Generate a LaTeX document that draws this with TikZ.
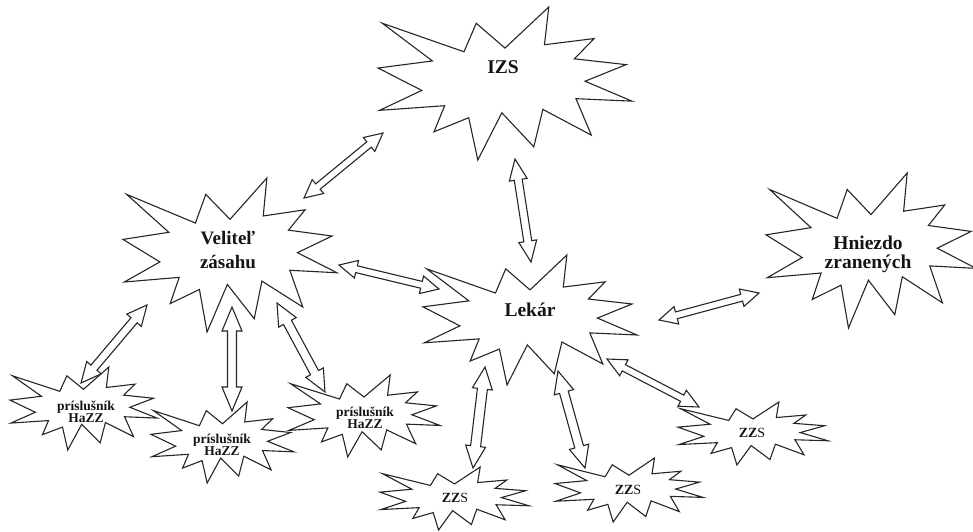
\documentclass[tikz,border=0pt]{standalone}
\usepackage{fontspec}
\setmainfont{Liberation Serif}
\usetikzlibrary{calc}
\tikzset{
  sealst/.style={draw=black!85, line width=1.1pt, line join=miter},
  arrst/.style={draw=black!85, line width=1.1pt, line join=miter},
  lbl/.style={font=\bfseries, text=black!92, align=center, inner sep=0pt},
}
\newcommand\seal[4]{%
  \begin{scope}[shift={(#1,#2)},x=#3pt,y=-#4pt]
    \draw[sealst] (0.5,0.2685) -- (0.6723,0) -- (0.6553,0.2465) -- (0.8509,0.2063) -- (0.7732,0.3387) -- (0.9767,0.3767) -- (0.8151,0.4850) -- (1,0.6153) -- (0.7795,0.5992) -- (0.8400,0.8377) -- (0.6491,0.6693) -- (0.6133,0.9137) -- (0.4876,0.6914) -- (0.3928,1) -- (0.3572,0.7235) -- (0.2205,0.8156) -- (0.2624,0.6452) -- (0.00625,0.6753) -- (0.1723,0.5451) -- (0,0.3988) -- (0.2142,0.3526) -- (0.0171,0.1063) -- (0.3385,0.2926) -- (0.3867,0.1063) -- cycle;
  \end{scope}}
\newcommand\dbl[5]{%
  \path (#1); \pgfgetlastxy{\arrAx}{\arrAy}
  \path (#2); \pgfgetlastxy{\arrBx}{\arrBy}
  \pgfmathsetmacro\arrlen{veclen(\arrBx-\arrAx,\arrBy-\arrAy)}
  \pgfmathsetmacro\arrang{atan2(\arrBy-\arrAy,\arrBx-\arrAx)}
  \draw[arrst,shift={(#1)},rotate=\arrang] (0pt,0pt) -- (#3pt,#4pt) -- (#3pt,#5pt) -- ({\arrlen pt-#3pt},#5pt) -- ({\arrlen pt-#3pt},#4pt) -- (\arrlen pt,0pt) -- ({\arrlen pt-#3pt},-#4pt) -- ({\arrlen pt-#3pt},-#5pt) -- (#3pt,-#5pt) -- (#3pt,-#4pt) -- cycle;
}
\begin{document}
\begin{tikzpicture}[x=1pt,y=-1pt]
\useasboundingbox (0,0) rectangle (973,531);
% starbursts
\seal{378}{7}{254}{153}
\seal{123}{178}{214}{154}
\seal{423}{255}{214}{130}
\seal{766}{173}{210}{155}
\seal{10}{367}{147}{83}
\seal{151}{402}{143}{81}
\seal{288}{375}{152}{82}
\seal{380}{467}{149}{63}
\seal{555}{458}{148}{64}
\seal{678}{402}{150}{63}
% labels
\node[lbl,font=\bfseries\fontsize{19.5}{22}\selectfont] (izs) at (503,67) {IZS};
\node[lbl,font=\bfseries\fontsize{19}{24}\selectfont] (vel) at (228,250) {Veliteľ\\zásahu};
\node[lbl,font=\bfseries\fontsize{19.5}{22}\selectfont] (lek) at (530,310) {Lekár};
\node[lbl,font=\bfseries\fontsize{19.5}{19}\selectfont] (hni) at (868,254) {Hniezdo\\zranených};
\node[lbl,font=\bfseries\fontsize{13.5}{12.5}\selectfont] (p1) at (86,412) {príslušník\\HaZZ};
\node[lbl,font=\bfseries\fontsize{13.5}{12.5}\selectfont] (p2) at (222,445) {príslušník\\HaZZ};
\node[lbl,font=\bfseries\fontsize{13.5}{12.5}\selectfont] (p3) at (365,418) {príslušník\\HaZZ};
\node[lbl,font=\fontsize{14}{16}\selectfont] (z1) at (455,498) {\textbf{ZZ}S};
\node[lbl,font=\fontsize{14}{16}\selectfont] (z2) at (628,490) {\textbf{ZZ}S};
\node[lbl,font=\fontsize{14}{16}\selectfont] (z3) at (752,433) {\textbf{ZZ}S};
% arrow ends
\coordinate (v1) at (304,198); \coordinate (i1) at (383,133);
\coordinate (v2) at (339,265); \coordinate (l2) at (439,289);
\coordinate (i3) at (515,159); \coordinate (l3) at (531,262);
\coordinate (l4) at (659,320); \coordinate (h4) at (759,293);
\coordinate (l5) at (607,359); \coordinate (z5) at (699,407);
\coordinate (l6) at (485,367); \coordinate (z6) at (473,468);
\coordinate (l7) at (558,371); \coordinate (z7) at (585,468);
\coordinate (v8) at (147,305); \coordinate (p8) at (81,383);
\coordinate (v9) at (232,307); \coordinate (p9) at (232,411);
\coordinate (v10) at (277,303); \coordinate (p10) at (325,392);
% double arrows
\dbl{v1}{i1}{18}{9}{3.5}
\dbl{v2}{l2}{18}{9}{3.5}
\dbl{i3}{l3}{21}{9}{4}
\dbl{l4}{h4}{18}{9}{3.5}
\dbl{l5}{z5}{19}{9}{3.5}
\dbl{l6}{z6}{22}{10}{5}
\dbl{l7}{z7}{22}{10}{4.5}
\dbl{v8}{p8}{20}{9.5}{4}
\dbl{v9}{p9}{24}{10}{4.5}
\dbl{v10}{p10}{22}{10}{4.5}
\end{tikzpicture}
\end{document}
